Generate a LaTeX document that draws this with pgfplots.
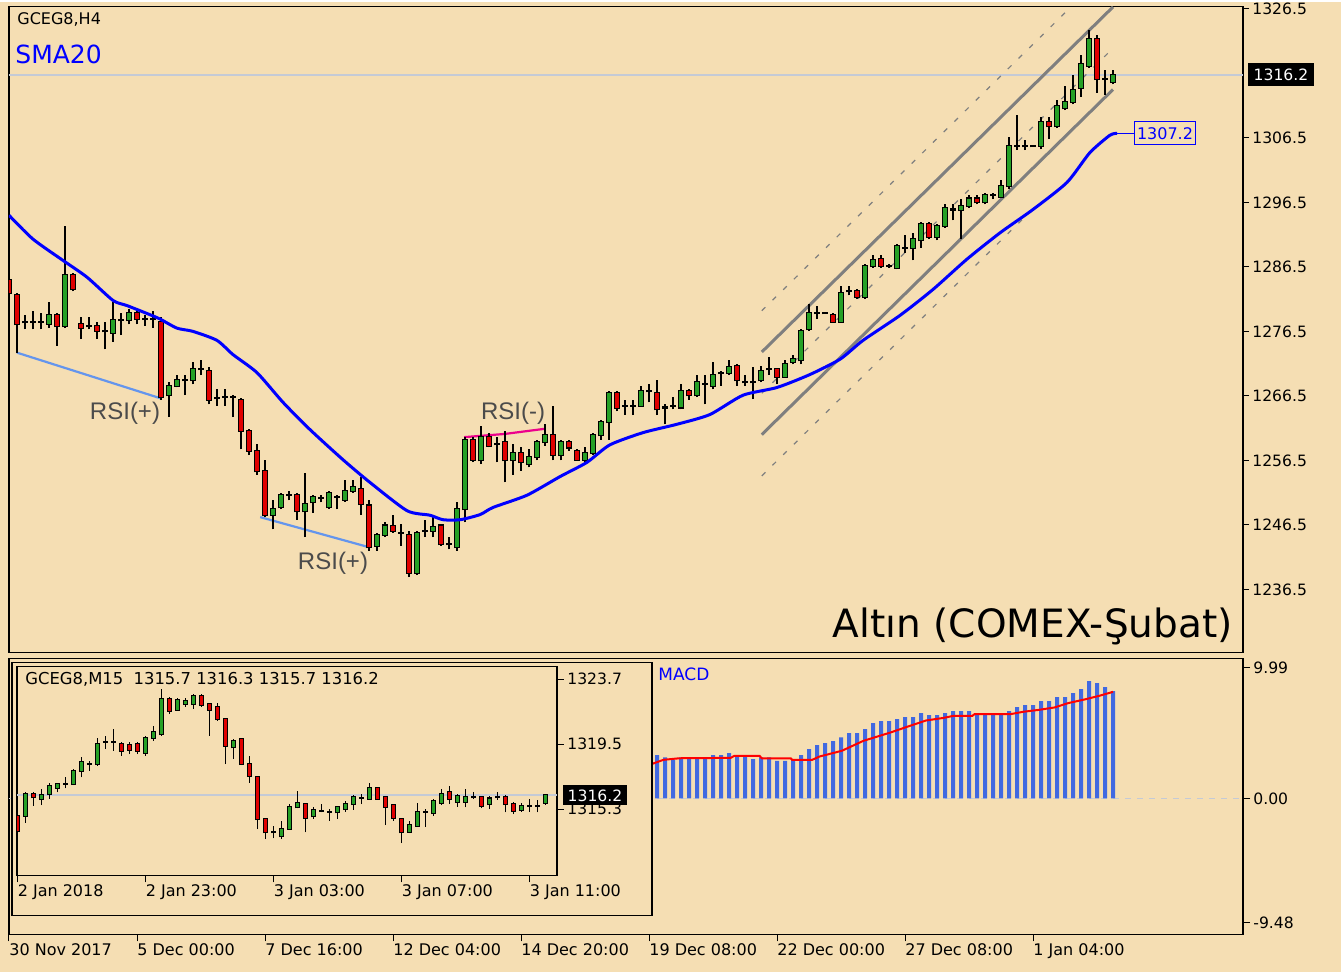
\documentclass[border=0pt]{standalone}
\usepackage{pgfplots}
\pgfplotsset{compat=1.18}
\usepackage{pgfplotstable}
\usepackage{fontspec}
\setmainfont{DejaVu Sans}
\newfontfamily\arialf{Liberation Sans}
\newcommand\fs[1]{\fontsize{#1}{#1}\selectfont}
\definecolor{wheat}{HTML}{F5DEB3}
\definecolor{cgreen}{HTML}{26A026}
\definecolor{cred}{HTML}{E00000}
\definecolor{macdblue}{HTML}{4169E1}
\definecolor{rsiblue}{HTML}{6495ED}
\definecolor{chgray}{HTML}{7F7F7F}
\definecolor{pline}{HTML}{C4CAD6}
\definecolor{rsitext}{HTML}{4B4B4B}

% main H4 candles
\pgfplotstableread{
x o h l c
2 1277.9 1279.1 1276.8 1277.9
3 1278.0 1279.7 1276.8 1278.0
4 1278.0 1279.4 1276.8 1278.0
5 1277.7 1281.0 1277.1 1279.1
7 1277.3 1292.8 1277.0 1285.2
10 1277.3 1278.7 1276.8 1277.3
12 1276.5 1277.9 1273.7 1276.5
13 1276.3 1281.1 1274.9 1278.2
14 1278.2 1279.4 1275.9 1278.2
15 1278.2 1279.9 1277.6 1279.4
17 1278.4 1279.1 1277.4 1278.4
18 1278.4 1279.7 1277.1 1278.4
20 1266.6 1268.6 1263.2 1268.1
21 1268.1 1269.7 1267.8 1268.9
22 1268.9 1269.7 1266.6 1268.9
23 1268.9 1271.7 1268.3 1270.6
24 1270.6 1272.0 1269.7 1270.6
26 1266.1 1267.5 1265.0 1266.1
27 1266.3 1267.5 1265.0 1266.3
28 1266.3 1266.7 1263.2 1266.3
33 1248.0 1250.3 1245.8 1248.9
34 1249.2 1251.5 1248.9 1251.2
35 1251.1 1251.8 1250.3 1251.1
37 1248.6 1254.6 1244.6 1249.7
38 1250.0 1251.1 1248.4 1250.8
39 1250.6 1251.1 1250.0 1250.6
40 1249.2 1251.7 1249.0 1251.5
41 1250.8 1251.1 1248.9 1250.8
42 1250.4 1253.4 1250.1 1251.8
43 1251.8 1253.5 1251.5 1252.3
46 1243.3 1245.2 1242.5 1244.9
47 1244.9 1246.9 1244.6 1246.4
49 1245.3 1246.6 1243.3 1245.3
51 1239.1 1245.6 1238.7 1245.2
52 1245.6 1247.3 1244.6 1245.6
53 1245.6 1248.0 1244.6 1246.1
55 1243.5 1244.6 1242.7 1243.5
56 1243.0 1250.0 1242.5 1248.9
57 1248.9 1260.1 1246.9 1259.6
59 1256.5 1261.9 1255.9 1260.1
61 1259.0 1260.1 1256.2 1259.0
63 1256.5 1259.0 1254.3 1257.7
65 1255.9 1258.2 1255.4 1257.0
66 1257.0 1259.7 1256.5 1259.3
67 1259.3 1262.1 1258.8 1260.5
69 1257.3 1259.6 1256.5 1259.3
72 1256.6 1258.5 1255.9 1257.7
73 1257.7 1260.7 1257.4 1260.4
74 1260.4 1262.8 1259.7 1262.4
75 1262.4 1267.3 1259.7 1267.0
77 1265.0 1265.8 1263.6 1265.0
78 1265.0 1265.8 1263.5 1265.0
79 1265.0 1268.1 1264.9 1267.3
80 1267.2 1268.3 1265.5 1267.2
82 1264.7 1265.2 1262.1 1264.7
83 1264.9 1266.3 1264.4 1264.9
84 1264.7 1268.3 1264.4 1267.3
86 1266.6 1269.8 1266.3 1268.6
87 1268.4 1269.8 1265.2 1268.4
88 1268.1 1271.7 1267.5 1269.8
89 1270.0 1270.4 1268.1 1270.0
90 1270.1 1272.0 1269.7 1270.9
92 1268.6 1269.7 1268.1 1268.6
93 1268.6 1270.9 1266.0 1268.6
94 1268.9 1271.2 1268.6 1270.4
95 1270.6 1272.5 1269.8 1270.6
97 1269.5 1272.0 1269.4 1271.5
98 1271.7 1272.8 1271.4 1272.2
99 1272.0 1276.9 1271.4 1276.6
100 1276.8 1280.7 1276.6 1279.4
101 1279.3 1280.5 1278.4 1279.3
102 1279.3 1279.4 1279.2 1279.3
104 1278.0 1283.6 1277.9 1282.5
105 1282.7 1283.6 1282.1 1282.7
107 1281.8 1286.9 1281.5 1286.6
108 1286.6 1288.4 1286.4 1287.5
110 1286.7 1287.0 1286.4 1286.7
111 1286.3 1290.0 1286.1 1289.7
112 1289.5 1291.4 1288.7 1289.5
113 1289.4 1291.8 1287.5 1290.8
114 1290.6 1293.4 1289.5 1293.1
116 1291.1 1293.1 1290.6 1292.8
117 1292.8 1296.2 1292.6 1295.6
118 1295.4 1296.2 1293.7 1295.4
119 1295.3 1297.1 1290.8 1296.0
120 1296.0 1297.6 1295.7 1297.1
122 1296.5 1298.0 1296.2 1297.7
123 1297.6 1298.0 1297.0 1297.6
124 1297.4 1299.9 1297.3 1299.1
125 1299.1 1306.6 1298.5 1305.2
126 1305.3 1310.0 1304.6 1305.3
127 1305.2 1306.1 1304.6 1305.2
128 1305.2 1305.3 1305.1 1305.2
129 1305.3 1309.7 1304.7 1308.9
131 1308.3 1312.3 1308.0 1311.4
132 1311.1 1314.6 1310.8 1312.0
133 1312.0 1316.3 1311.7 1313.9
134 1314.3 1319.3 1312.9 1317.9
135 1317.7 1323.3 1317.4 1321.9
137 1315.6 1317.0 1313.2 1315.6
138 1315.1 1317.0 1314.8 1316.2
}\mgreen

\pgfplotstableread{
x o h l c
0 1284.4 1284.9 1282.2 1282.5
1 1282.2 1282.5 1273.2 1277.6
6 1279.1 1279.4 1274.3 1277.3
8 1285.2 1285.6 1282.7 1283.0
9 1277.7 1278.7 1275.3 1277.0
11 1277.3 1277.9 1275.3 1276.6
16 1279.3 1279.7 1277.6 1278.4
19 1277.9 1278.7 1265.9 1266.3
25 1270.4 1270.9 1265.2 1265.9
29 1265.9 1266.1 1258.2 1261.1
30 1261.1 1261.3 1257.3 1258.0
31 1258.0 1259.0 1254.3 1254.8
32 1254.8 1256.6 1247.7 1248.0
36 1251.1 1251.5 1247.3 1248.6
44 1252.0 1253.9 1248.1 1249.7
45 1249.5 1250.3 1242.5 1243.0
48 1246.3 1248.1 1245.3 1245.6
50 1245.0 1245.6 1238.4 1239.1
54 1246.4 1246.7 1243.3 1243.5
58 1259.6 1260.1 1256.2 1256.6
60 1260.1 1260.8 1258.5 1258.8
62 1259.3 1261.1 1253.1 1256.5
64 1257.7 1258.5 1254.9 1256.2
68 1260.5 1265.0 1256.5 1257.3
70 1259.3 1259.7 1258.0 1258.5
71 1258.0 1258.2 1256.5 1256.6
76 1267.0 1267.3 1264.1 1264.6
81 1267.0 1268.9 1263.5 1264.4
85 1267.2 1267.5 1265.9 1266.6
91 1271.1 1271.4 1268.1 1268.9
96 1270.6 1270.8 1268.3 1269.5
103 1279.0 1279.4 1277.9 1278.0
106 1282.8 1283.0 1281.5 1281.9
109 1287.7 1288.3 1286.4 1286.7
115 1293.1 1293.4 1290.8 1291.2
121 1297.1 1297.6 1296.2 1296.5
130 1308.9 1309.7 1306.3 1308.3
136 1321.9 1322.4 1313.5 1315.6
}\mred

% inset M15 candles
\pgfplotstableread{
x o h l c
1 1314.87 1316.38 1314.44 1316.27
3 1315.95 1316.59 1315.56 1316.21
4 1316.27 1317.02 1315.99 1316.81
5 1316.70 1317.02 1316.38 1316.92
6 1316.95 1317.35 1316.64 1316.95
7 1316.92 1317.89 1316.85 1317.78
8 1317.78 1318.64 1317.35 1318.32
9 1318.22 1318.43 1317.78 1318.22
10 1318.21 1319.93 1318.10 1319.50
11 1319.65 1320.04 1319.18 1319.65
12 1319.65 1320.47 1319.07 1319.65
16 1318.96 1320.04 1318.75 1319.93
17 1319.93 1320.69 1319.72 1320.30
18 1320.15 1323.05 1320.04 1322.41
20 1321.72 1322.45 1321.65 1322.37
21 1322.09 1322.45 1321.93 1322.30
22 1322.09 1322.73 1321.76 1322.62
27 1319.29 1319.82 1318.53 1319.72
32 1313.80 1314.23 1313.41 1313.80
33 1313.54 1314.55 1313.36 1314.05
34 1314.05 1315.63 1314.01 1315.41
35 1315.41 1316.49 1315.35 1315.69
37 1314.83 1315.41 1314.66 1315.26
38 1315.19 1315.63 1315.09 1315.19
39 1315.13 1315.30 1314.55 1315.13
40 1315.09 1315.52 1314.66 1315.41
41 1315.30 1315.84 1315.13 1315.63
42 1315.63 1316.21 1315.26 1316.06
43 1316.05 1316.27 1315.63 1316.05
44 1315.99 1316.98 1315.90 1316.70
49 1313.84 1314.55 1313.75 1314.27
50 1314.23 1315.69 1314.18 1315.13
51 1315.13 1315.30 1314.18 1315.13
52 1315.04 1315.95 1314.87 1315.84
53 1315.73 1316.59 1315.56 1316.27
55 1315.78 1316.27 1315.47 1316.12
56 1315.78 1316.59 1315.41 1316.06
57 1316.06 1316.42 1315.95 1316.06
59 1315.63 1316.12 1315.30 1315.99
60 1316.06 1316.42 1315.90 1316.06
63 1315.26 1315.73 1315.13 1315.52
64 1315.52 1315.95 1315.13 1315.52
65 1315.52 1315.90 1315.09 1315.52
66 1315.70 1316.30 1315.60 1316.20
}\igreen

\pgfplotstableread{
x o h l c
0 1314.87 1314.98 1313.80 1313.90
2 1316.27 1316.38 1315.52 1316.06
13 1319.50 1319.61 1318.75 1319.07
14 1319.44 1319.61 1318.86 1319.13
15 1319.50 1319.61 1318.86 1319.07
19 1322.41 1322.52 1321.44 1321.65
23 1322.62 1322.73 1321.93 1322.02
24 1322.09 1322.19 1320.04 1321.72
25 1321.87 1322.19 1321.01 1321.12
26 1321.12 1321.16 1318.21 1319.39
28 1319.82 1319.93 1318.14 1318.21
29 1318.21 1318.75 1317.02 1317.46
30 1317.35 1317.46 1314.01 1314.66
31 1314.66 1314.76 1313.36 1313.80
36 1315.63 1315.73 1313.80 1314.76
45 1316.64 1316.70 1315.95 1315.99
46 1316.06 1316.12 1314.27 1315.47
47 1315.56 1315.63 1314.55 1314.76
48 1314.66 1314.76 1313.11 1313.80
54 1316.38 1316.81 1315.63 1315.99
58 1316.06 1316.12 1315.35 1315.52
61 1316.06 1316.21 1315.09 1315.63
62 1315.63 1315.78 1314.98 1315.19
}\ired

% MACD histogram
\pgfplotstableread{
x m
81 3.31
82 3.13
83 2.95
84 3.13
85 3.13
86 3.13
87 3.13
88 3.31
89 3.31
90 3.46
91 3.26
92 3.26
93 3.00
94 3.13
95 3.13
96 2.87
97 2.87
98 3.00
99 3.31
100 3.77
101 4.07
102 4.22
103 4.38
104 4.66
105 4.99
106 4.99
107 5.29
108 5.75
109 5.90
110 5.90
111 6.06
112 6.21
113 6.21
114 6.51
115 6.36
116 6.36
117 6.51
118 6.67
119 6.67
120 6.67
121 6.51
122 6.36
123 6.36
124 6.51
125 6.67
126 6.97
127 7.12
128 7.12
129 7.43
130 7.43
131 7.73
132 7.73
133 8.04
134 8.35
135 8.96
136 8.80
137 8.50
138 8.19
}\macd

\pgfplotsset{
  wick/.style={draw=none, mark=none, forget plot,
    error bars/.cd, y dir=plus, y explicit, error mark=none,
    error bar style={solid, draw=black, line width=0.75pt, line cap=butt}},
  bodyout/.style={draw=none, mark=none, forget plot,
    error bars/.cd, y dir=plus, y explicit, error mark=none,
    error bar style={solid, draw=black, line width=2.8pt, line cap=butt}},
  bodyin/.style={draw=none, mark=none, forget plot,
    error bars/.cd, y dir=plus, y explicit, error mark=none,
    error bar style={solid, draw=#1, line width=1.7pt, line cap=butt}},
}

\begin{document}
\begin{tikzpicture}
\fill[wheat] (0,0) rectangle (670.5pt,485pt);

% ---------------- main H4 panel ----------------
\begin{axis}[
  at={(4.5pt,160pt)}, anchor=south west, scale only axis,
  width=617pt, height=323pt,
  xmin=0, xmax=154.25, ymin=1226.72, ymax=1326.88,
  axis line style={black, line width=0.6pt},
  xtick=\empty,
  ytick={1326.5,1306.5,1296.5,1286.5,1276.5,1266.5,1256.5,1246.5,1236.5},
  yticklabels={1326.5,1306.5,1296.5,1286.5,1276.5,1266.5,1256.5,1246.5,1236.5},
  ytick pos=right, yticklabel pos=right, tick align=outside,
  major tick length=3pt,
  tick style={black, line width=0.5pt},
  yticklabel style={font=\fs{7.8}, anchor=west, inner sep=1.5pt},
]
\addplot[pline, line width=0.9pt, forget plot] coordinates {(0,1316.2) (154.25,1316.2)};
% channel
\addplot[chgray, line width=1.5pt] coordinates {(94.1,1273.3) (138,1326.8)};
\addplot[chgray, line width=1.5pt] coordinates {(94.1,1260.5) (138,1314.0)};
\addplot[chgray, line width=0.6pt, dash pattern=on 2.5pt off 5pt] coordinates {(94.1,1266.9) (138,1320.4)};
\addplot[chgray, line width=0.6pt, dash pattern=on 2.5pt off 5pt] coordinates {(94.1,1279.7) (132.5,1326.5)};
\addplot[chgray, line width=0.6pt, dash pattern=on 2.5pt off 5pt] coordinates {(94.1,1254.1) (127.6,1295.0)};
% RSI divergence lines
\addplot[rsiblue, line width=1.1pt] coordinates {(1,1273.2) (19,1266.1)};
\addplot[rsiblue, line width=1.1pt] coordinates {(31.4,1247.7) (45.1,1243.0)};
\addplot[magenta, line width=1.1pt] coordinates {(56.9,1260.1) (62,1260.6) (67,1261.4)};
% candles
\addplot[wick] table[x=x, y=l, y error plus expr=\thisrow{h}-\thisrow{l}] {\mgreen};
\addplot[wick] table[x=x, y=l, y error plus expr=\thisrow{h}-\thisrow{l}] {\mred};
\addplot[bodyout] table[x=x, y expr={min(\thisrow{o},\thisrow{c})-0.16}, y error plus expr={abs(\thisrow{c}-\thisrow{o})+0.32}] {\mgreen};
\addplot[bodyout] table[x=x, y expr={min(\thisrow{o},\thisrow{c})-0.16}, y error plus expr={abs(\thisrow{c}-\thisrow{o})+0.32}] {\mred};
\addplot[bodyin=cgreen] table[x=x, y expr={min(\thisrow{o},\thisrow{c})}, y error plus expr={abs(\thisrow{c}-\thisrow{o})}] {\mgreen};
\addplot[bodyin=cred] table[x=x, y expr={min(\thisrow{o},\thisrow{c})}, y error plus expr={abs(\thisrow{c}-\thisrow{o})}] {\mred};
% SMA20
\addplot[blue, line width=1.5pt, smooth, tension=0.4] coordinates {(0,1294.5) (3,1290.8) (6.75,1287.5) (9.75,1284.9) (13,1281.3) (14.75,1280.5) (17.6,1279.1) (18.9,1278.4) (21,1277.0) (23,1276.5) (26,1275.1) (28,1272.9) (31,1270.1) (34.25,1265.5) (37.6,1261.3) (41.75,1256.6) (45.1,1253.1) (49.75,1248.7) (52.6,1248.0) (54.25,1247.3) (56.4,1247.3) (58.9,1248.1) (60.5,1249.2) (64.75,1251.1) (68.9,1254.0) (72.25,1256.2) (75.1,1258.9) (79.25,1260.8) (83.5,1262.1) (87.6,1263.6) (91.75,1266.6) (96,1267.8) (100.1,1269.8) (103.9,1272.2) (106.75,1275.1) (111.4,1279.0) (115.5,1283.0) (119.75,1287.7) (123.9,1291.8) (128,1295.4) (132.25,1299.6) (135.1,1304.2) (137.6,1306.9) (138.5,1307.2)};
\addplot[blue, line width=0.6pt] coordinates {(138.5,1307.2) (140.6,1307.2)};
\node[draw=blue, line width=0.6pt, text=blue, fill=wheat, anchor=west, font=\fs{8}, inner xsep=1.3pt, inner ysep=0pt, minimum height=11.5pt] at (axis cs:140.6,1307.2) {1307.2};
\end{axis}

% ---------------- MACD panel ----------------
\begin{axis}[
  at={(4.5pt,19pt)}, anchor=south west, scale only axis,
  width=617pt, height=138pt,
  xmin=0, xmax=154.25, ymin=-10.38, ymax=10.69,
  axis line style={black, line width=0.6pt},
  xtick={0,16,32,48,64,80,96,112,128},
  xticklabels={30 Nov 2017,5 Dec 00:00,7 Dec 16:00,12 Dec 04:00,14 Dec 20:00,19 Dec 08:00,22 Dec 00:00,27 Dec 08:00,1 Jan 04:00},
  ytick={9.99,0,-9.48},
  yticklabels={9.99,0.00,-9.48},
  xtick pos=left, ytick pos=right, yticklabel pos=right, tick align=outside,
  major tick length=3.5pt,
  tick style={black, line width=0.5pt},
  yticklabel style={font=\fs{7.8}, anchor=west, inner sep=1.5pt},
  xticklabel style={font=\fs{8}, anchor=north west, inner sep=1pt, xshift=-1pt},
]
\addplot[pline, line width=0.6pt, dash pattern=on 3pt off 3pt] coordinates {(0,0) (154.25,0)};
\addplot[ybar, bar width=2pt, fill=macdblue, draw=none] table[x=x, y=m] {\macd};
\addplot[red, line width=1pt] coordinates {(80.3,2.62) (81.8,2.95) (83.8,3.07) (90.2,3.1) (90.7,3.26) (93.8,3.26) (94.1,3.07) (97.7,3.07) (97.9,2.95) (100.4,2.95) (101.3,3.2) (104.1,3.64) (106.8,4.4) (110.2,5.04) (112.4,5.5) (114.6,5.95) (116.8,6.15) (118,6.3) (120.4,6.3) (120.7,6.44) (125.2,6.44) (126.8,6.62) (128.8,6.77) (130.7,6.95) (132.4,7.28) (134.6,7.58) (136.3,7.84) (138,8.14)};
\end{axis}

% ---------------- inset M15 ----------------
\filldraw[fill=wheat, draw=black, line width=0.6pt] (6pt,28.5pt) rectangle (326pt,155pt);
\begin{axis}[
  at={(8.5pt,48.5pt)}, anchor=south west, scale only axis,
  width=270pt, height=104.5pt,
  xmin=-0.05, xmax=67.45, ymin=1311.02, ymax=1324.52,
  axis background/.style={fill=wheat},
  axis line style={black, line width=0.6pt},
  xtick={0,16,32,48,64},
  xticklabels={2 Jan 2018,2 Jan 23:00,3 Jan 03:00,3 Jan 07:00,3 Jan 11:00},
  ytick={1323.7,1319.5,1315.3},
  yticklabels={1323.7,1319.5,1315.3},
  xtick pos=left, ytick pos=right, yticklabel pos=right, tick align=outside,
  major tick length=3.5pt,
  tick style={black, line width=0.5pt},
  yticklabel style={font=\fs{7.8}, anchor=west, inner sep=1.5pt},
  xticklabel style={font=\fs{8}, anchor=north west, inner sep=1pt, xshift=-1pt},
]
\addplot[pline, line width=0.9pt, forget plot] coordinates {(-0.05,1316.2) (67.45,1316.2)};
\addplot[wick] table[x=x, y=l, y error plus expr=\thisrow{h}-\thisrow{l}] {\igreen};
\addplot[wick] table[x=x, y=l, y error plus expr=\thisrow{h}-\thisrow{l}] {\ired};
\addplot[bodyout] table[x=x, y expr={min(\thisrow{o},\thisrow{c})-0.065}, y error plus expr={abs(\thisrow{c}-\thisrow{o})+0.13}] {\igreen};
\addplot[bodyout] table[x=x, y expr={min(\thisrow{o},\thisrow{c})-0.065}, y error plus expr={abs(\thisrow{c}-\thisrow{o})+0.13}] {\ired};
\addplot[bodyin=cgreen] table[x=x, y expr={min(\thisrow{o},\thisrow{c})}, y error plus expr={abs(\thisrow{c}-\thisrow{o})}] {\igreen};
\addplot[bodyin=cred] table[x=x, y expr={min(\thisrow{o},\thisrow{c})}, y error plus expr={abs(\thisrow{c}-\thisrow{o})}] {\ired};
\end{axis}

% ---------------- texts ----------------
\node[anchor=west, font=\fs{8}, inner sep=0pt] at (8.5pt,476.5pt) {GCEG8,H4};
\node[anchor=west, font=\fs{12.5}, text=blue, inner sep=0pt] at (7.5pt,459pt) {SMA20};
\node[anchor=east, font=\fs{19.5}, inner sep=0pt] at (616.5pt,173pt) {Altın (COMEX-Şubat)};
\node[font=\arialf\fs{12}, text=rsitext, inner sep=0pt] at (62.5pt,279.5pt) {RSI(+)};
\node[font=\arialf\fs{12}, text=rsitext, inner sep=0pt] at (166.5pt,204.5pt) {RSI(+)};
\node[font=\arialf\fs{12}, text=rsitext, inner sep=0pt] at (256.5pt,279.5pt) {RSI(-)};
\node[anchor=west, font=\fs{8.5}, text=blue, inner sep=0pt] at (329pt,149pt) {MACD};
\node[anchor=west, font=\fs{8.2}, inner sep=0pt] at (12.5pt,146.5pt) {GCEG8,M15\ \ 1315.7 1316.3 1315.7 1316.2};
\node[fill=black, text=white, font=\fs{7.8}, inner xsep=3pt, inner ysep=0pt, minimum height=11.5pt] at (640.5pt,448.75pt) {1316.2};
\node[fill=black, text=white, font=\fs{7.8}, inner xsep=2.5pt, inner ysep=0pt, minimum height=10pt] at (297.5pt,88.5pt) {1316.2};
\end{tikzpicture}
\end{document}
